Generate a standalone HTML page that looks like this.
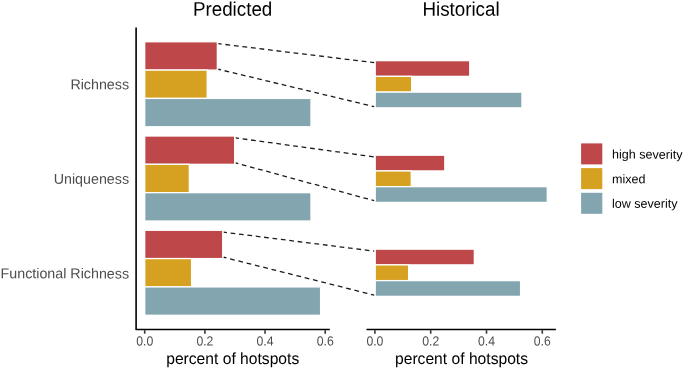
<!DOCTYPE html>
<html><head><meta charset="utf-8"><title>Hotspots</title>
<style>
html,body{margin:0;padding:0;background:#fff;}
svg{display:block;}
text{font-family:"Liberation Sans",Arial,Helvetica,sans-serif;text-rendering:geometricPrecision;}
.t{font-size:18.8px;fill:#000;text-anchor:middle;}
.xl{font-size:15.65px;fill:#000;text-anchor:middle;}
.yl{font-size:14.28px;fill:#4d4d4d;text-anchor:end;}
.tk{font-size:12.65px;fill:#4d4d4d;text-anchor:middle;}
.lg{font-size:12.55px;fill:#000;}
</style></head><body>
<svg width="685" height="369" viewBox="0 0 685 369">
<rect width="685" height="369" fill="#fff"/>
<rect x="144.70" y="41.75" width="72.66" height="28.34" fill="#BE4749" stroke="#fff" stroke-width="1.3"/>
<rect x="144.70" y="70.08" width="62.49" height="28.34" fill="#D6A021" stroke="#fff" stroke-width="1.3"/>
<rect x="144.70" y="98.42" width="166.29" height="28.34" fill="#82A5B0" stroke="#fff" stroke-width="1.3"/>
<rect x="375.20" y="60.64" width="94.55" height="15.74" fill="#BE4749" stroke="#fff" stroke-width="1.3"/>
<rect x="375.20" y="76.38" width="36.48" height="15.74" fill="#D6A021" stroke="#fff" stroke-width="1.3"/>
<rect x="375.20" y="92.12" width="146.77" height="15.74" fill="#82A5B0" stroke="#fff" stroke-width="1.3"/>
<line x1="218.36" y1="43.65" x2="374.20" y2="62.65" stroke="#1a1a1a" stroke-width="1.3" stroke-dasharray="4.80 3.78" stroke-dashoffset="1.5"/>
<line x1="218.36" y1="69.25" x2="374.20" y2="106.65" stroke="#1a1a1a" stroke-width="1.3" stroke-dasharray="4.70 3.70" stroke-dashoffset="2.0"/>
<rect x="144.70" y="136.00" width="90.00" height="28.34" fill="#BE4749" stroke="#fff" stroke-width="1.3"/>
<rect x="144.70" y="164.33" width="44.64" height="28.34" fill="#D6A021" stroke="#fff" stroke-width="1.3"/>
<rect x="144.70" y="192.67" width="166.29" height="28.34" fill="#82A5B0" stroke="#fff" stroke-width="1.3"/>
<rect x="375.20" y="155.19" width="69.62" height="15.74" fill="#BE4749" stroke="#fff" stroke-width="1.3"/>
<rect x="375.20" y="170.93" width="36.07" height="15.74" fill="#D6A021" stroke="#fff" stroke-width="1.3"/>
<rect x="375.20" y="186.67" width="172.11" height="15.74" fill="#82A5B0" stroke="#fff" stroke-width="1.3"/>
<line x1="235.70" y1="137.90" x2="374.20" y2="156.90" stroke="#1a1a1a" stroke-width="1.3" stroke-dasharray="4.76 3.74" stroke-dashoffset="1.5"/>
<line x1="235.70" y1="162.90" x2="374.20" y2="200.70" stroke="#1a1a1a" stroke-width="1.3" stroke-dasharray="4.70 3.70" stroke-dashoffset="2.0"/>
<rect x="144.70" y="230.25" width="78.00" height="28.34" fill="#BE4749" stroke="#fff" stroke-width="1.3"/>
<rect x="144.70" y="258.58" width="46.89" height="28.34" fill="#D6A021" stroke="#fff" stroke-width="1.3"/>
<rect x="144.70" y="286.92" width="175.89" height="28.34" fill="#82A5B0" stroke="#fff" stroke-width="1.3"/>
<rect x="375.20" y="249.14" width="99.15" height="15.74" fill="#BE4749" stroke="#fff" stroke-width="1.3"/>
<rect x="375.20" y="264.88" width="33.42" height="15.74" fill="#D6A021" stroke="#fff" stroke-width="1.3"/>
<rect x="375.20" y="280.62" width="145.38" height="15.74" fill="#82A5B0" stroke="#fff" stroke-width="1.3"/>
<line x1="223.70" y1="232.15" x2="374.20" y2="251.15" stroke="#1a1a1a" stroke-width="1.3" stroke-dasharray="4.73 3.72" stroke-dashoffset="1.5"/>
<line x1="223.70" y1="257.25" x2="374.20" y2="295.15" stroke="#1a1a1a" stroke-width="1.3" stroke-dasharray="4.79 3.76" stroke-dashoffset="2.0"/>
<path d="M136.1 27.6 V329.5 H329.8" fill="none" stroke="#000" stroke-width="1.6" stroke-linejoin="round"/>
<line x1="366.5" y1="329.5" x2="555.9" y2="329.5" stroke="#000" stroke-width="1.6"/>
<line x1="144.70" y1="330.2" x2="144.70" y2="333.7" stroke="#333" stroke-width="1.6"/>
<text class="tk" transform="translate(144.70,345.40) rotate(0.04) scale(0.97,1.05)">0.0</text>
<line x1="374.90" y1="330.2" x2="374.90" y2="333.7" stroke="#333" stroke-width="1.6"/>
<text class="tk" transform="translate(374.90,345.40) rotate(0.04) scale(0.97,1.05)">0.0</text>
<line x1="204.90" y1="330.2" x2="204.90" y2="333.7" stroke="#333" stroke-width="1.6"/>
<text class="tk" transform="translate(204.90,345.40) rotate(0.04) scale(0.97,1.05)">0.2</text>
<line x1="430.70" y1="330.2" x2="430.70" y2="333.7" stroke="#333" stroke-width="1.6"/>
<text class="tk" transform="translate(430.70,345.40) rotate(0.04) scale(0.97,1.05)">0.2</text>
<line x1="265.05" y1="330.2" x2="265.05" y2="333.7" stroke="#333" stroke-width="1.6"/>
<text class="tk" transform="translate(265.05,345.40) rotate(0.04) scale(0.97,1.05)">0.4</text>
<line x1="486.50" y1="330.2" x2="486.50" y2="333.7" stroke="#333" stroke-width="1.6"/>
<text class="tk" transform="translate(486.50,345.40) rotate(0.04) scale(0.97,1.05)">0.4</text>
<line x1="325.20" y1="330.2" x2="325.20" y2="333.7" stroke="#333" stroke-width="1.6"/>
<text class="tk" transform="translate(325.20,345.40) rotate(0.04) scale(0.97,1.05)">0.6</text>
<line x1="542.30" y1="330.2" x2="542.30" y2="333.7" stroke="#333" stroke-width="1.6"/>
<text class="tk" transform="translate(542.30,345.40) rotate(0.04) scale(0.97,1.05)">0.6</text>
<text class="t" transform="translate(232.60,15.75) rotate(0.04) scale(1,1.055)">Predicted</text>
<text class="t" transform="translate(461.00,15.75) rotate(0.04) scale(1,1.055)">Historical</text>
<text class="xl" transform="translate(232.70,364.05) rotate(0.04) scale(1,1.03)">percent of hotspots</text>
<text class="xl" transform="translate(461.50,364.05) rotate(0.04) scale(1,1.03)">percent of hotspots</text>
<text class="yl" transform="translate(129.05,89.30) rotate(0.04)">Richness</text>
<text class="yl" transform="translate(129.05,183.85) rotate(0.04)">Uniqueness</text>
<text class="yl" transform="translate(129.05,278.40) rotate(0.04)">Functional Richness</text>
<rect x="581.1" y="143.4" width="21.2" height="21.0" fill="#BE4749"/>
<text class="lg" transform="translate(612.00,158.60) rotate(0.04)">high severity</text>
<rect x="581.1" y="168.1" width="21.2" height="21.0" fill="#D6A021"/>
<text class="lg" transform="translate(612.00,183.20) rotate(0.04)">mixed</text>
<rect x="581.1" y="192.8" width="21.2" height="21.0" fill="#82A5B0"/>
<text class="lg" transform="translate(612.00,207.80) rotate(0.04)">low severity</text>
</svg></body></html>
